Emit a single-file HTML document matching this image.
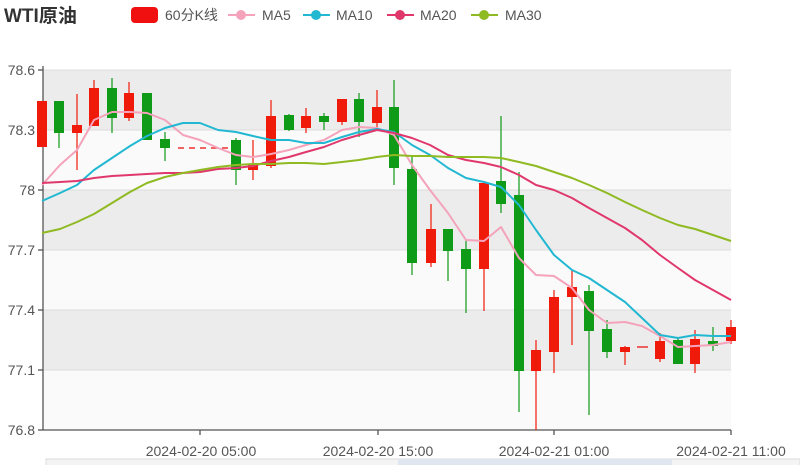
<!DOCTYPE html><html><head><meta charset="utf-8"><style>body{margin:0;background:#fff}svg{display:block}text{font-family:"Liberation Sans","Noto Sans CJK SC",sans-serif}</style></head><body>
<svg width="800" height="465" viewBox="0 0 800 465" xmlns="http://www.w3.org/2000/svg">
<rect width="800" height="465" fill="#fff"/>
<rect x="43" y="70" width="688" height="360" fill="#fafafa"/>
<rect x="43" y="70" width="688" height="60" fill="#ececec"/>
<rect x="43" y="190" width="688" height="60" fill="#ececec"/>
<rect x="43" y="310" width="688" height="60" fill="#ececec"/>
<g stroke="#dcdcdc" stroke-width="1"><line x1="43" x2="731" y1="70" y2="70"/><line x1="43" x2="731" y1="130" y2="130"/><line x1="43" x2="731" y1="190" y2="190"/><line x1="43" x2="731" y1="250" y2="250"/><line x1="43" x2="731" y1="310" y2="310"/><line x1="43" x2="731" y1="370" y2="370"/></g>
<g stroke="#555" stroke-width="1.3"><line x1="43" y1="66" x2="43" y2="430"/><line x1="43" y1="430" x2="731" y2="430"/>
<line x1="38" x2="43" y1="70" y2="70"/><line x1="38" x2="43" y1="130" y2="130"/><line x1="38" x2="43" y1="190" y2="190"/><line x1="38" x2="43" y1="250" y2="250"/><line x1="38" x2="43" y1="310" y2="310"/><line x1="38" x2="43" y1="370" y2="370"/><line x1="38" x2="43" y1="430" y2="430"/>
<line x1="200" x2="200" y1="430" y2="435"/><line x1="378" x2="378" y1="430" y2="435"/><line x1="554" x2="554" y1="430" y2="435"/><line x1="731" x2="731" y1="430" y2="435"/></g>
<g fill="#555" font-size="14" text-anchor="end"><text x="35" y="75">78.6</text><text x="35" y="135">78.3</text><text x="35" y="195">78</text><text x="35" y="255">77.7</text><text x="35" y="315">77.4</text><text x="35" y="375">77.1</text><text x="35" y="435">76.8</text></g>
<g fill="#555" font-size="14" text-anchor="middle"><text x="201" y="456">2024-02-20 05:00</text><text x="378" y="456">2024-02-20 15:00</text><text x="554" y="456">2024-02-21 01:00</text><text x="731" y="456">2024-02-21 11:00</text></g>
<rect x="46" y="459" width="754" height="8" fill="#f4f4f4" stroke="#ddd"/>
<rect x="398" y="459" width="274" height="8" fill="#dfe6f0"/>
<line x1="178" y1="148" x2="228" y2="148" stroke="#e33" stroke-width="1.5" stroke-dasharray="6,5"/>
<line x1="637" y1="347" x2="648" y2="347" stroke="#e33" stroke-width="1.5"/>
<g id="c"></g>
<g fill="none" stroke-width="2" stroke-linejoin="round">
<polyline stroke="#f4a3bb" points="42,185 60,165 77,150 94,120 112,112 130,112 147,113 165,120 183,135 200,140 218,148 236,155 253,157 271,154 289,150 306,145 324,140 342,130 359,127 377,128 394,135 412,165 430,190 448,213 466,240 484,241 501,227 519,258 536,275 554,276 572,288 589,310 607,323 625,322 642,326 660,336 678,347 695,346 713,345 731,342"/>
<polyline stroke="#22b8d2" points="42,201 60,193 77,185 94,170 112,158 130,146 147,136 165,128 183,123 200,123 218,130 236,132 253,136 271,140 289,140 306,143 324,143 342,137 359,132 377,129 394,132 412,145 430,155 448,168 466,178 484,182 501,187 519,205 536,230 554,255 572,270 589,278 607,290 625,302 642,318 660,335 678,338 695,335 713,336 731,336"/>
<polyline stroke="#e0386c" points="42,183 60,182 77,181 94,178 112,176 130,175 147,174 165,173 183,173 200,172 218,169 236,168 253,166 271,161 289,157 306,152 324,147 342,140 359,135 377,130 394,133 412,138 430,145 448,155 466,160 484,163 501,167 519,175 536,185 554,190 572,198 589,208 607,218 625,228 642,240 660,255 678,268 695,280 713,290 731,300"/>
<polyline stroke="#8fba22" points="42,233 60,229 77,222 94,214 112,203 130,192 147,183 165,177 183,173 200,170 218,167 236,165 253,164 271,164 289,163 306,163 324,164 342,162 359,160 377,157 394,155 412,156 430,156 448,157 466,157 484,157 501,158 519,162 536,166 554,172 572,178 589,185 607,193 625,202 642,210 660,218 678,225 695,229 713,235 731,241"/>
</g>
<text x="4" y="22" font-size="19" font-weight="bold" fill="#333">WTI原油</text>
<rect x="131" y="7" width="27" height="16" rx="4" fill="#f01010"/>
<text x="165" y="20" font-size="14" fill="#555">60分K线</text>
<g stroke-width="2"><line x1="228" x2="255" y1="15" y2="15" stroke="#f4a3bb"/><circle cx="241" cy="15" r="5" fill="#f4a3bb"/>
<line x1="303" x2="330" y1="15" y2="15" stroke="#22b8d2"/><circle cx="316" cy="15" r="5" fill="#22b8d2"/>
<line x1="387" x2="414" y1="15" y2="15" stroke="#e0386c"/><circle cx="400" cy="15" r="5" fill="#e0386c"/>
<line x1="471" x2="498" y1="15" y2="15" stroke="#8fba22"/><circle cx="484" cy="15" r="5" fill="#8fba22"/></g>
<g font-size="14" fill="#555"><text x="262" y="20">MA5</text><text x="336" y="20">MA10</text><text x="420" y="20">MA20</text><text x="505" y="20">MA30</text></g>
</svg>
<script>
var d=[[42,'r',101,147,101,147],[59,'g',101,133,101,148],[77,'r',125,133,94,170],[94,'r',88,126,80,126],[112,'g',88,118,78,133],[129,'r',93,118,82,121],[147,'g',93,140,93,140],[165,'g',139,148,132,161],[236,'g',140,170,138,185],[253,'r',165,170,140,180],[271,'r',116,166,100,168],[289,'g',115,130,114,131],[306,'r',116,128,108,133],[324,'g',116,122,113,130],[342,'r',99,122,99,125],[359,'g',99,122,93,137],[377,'r',107,123,90,127],[394,'g',107,168,80,185],[412,'g',169,263,155,275],[431,'r',229,263,204,267],[448,'g',229,251,229,281],[466,'g',249,269,240,313],[484,'r',183,269,181,311],[501,'g',181,204,116,213],[519,'g',195,371,172,412],[536,'r',350,371,340,430],[554,'r',297,352,290,373],[572,'r',287,297,270,345],[589,'g',291,331,285,415],[607,'g',329,352,320,358],[625,'r',347,352,346,365],[660,'r',341,359,333,362],[678,'g',340,364,337,364],[695,'r',339,364,330,373],[713,'g',341,346,327,351],[731,'r',327,341,320,344]];
var s='';d.forEach(function(c){var col=c[1]=='r'?'#f01a0a':'#0f9a17';s+='<line x1="'+c[0]+'" x2="'+c[0]+'" y1="'+c[4]+'" y2="'+c[5]+'" stroke="'+col+'" stroke-width="1.2"/><rect x="'+(c[0]-5)+'" y="'+c[2]+'" width="10" height="'+Math.max(2,c[3]-c[2])+'" fill="'+col+'"/>';});
document.getElementById('c').innerHTML=s;
</script>
</body></html>
